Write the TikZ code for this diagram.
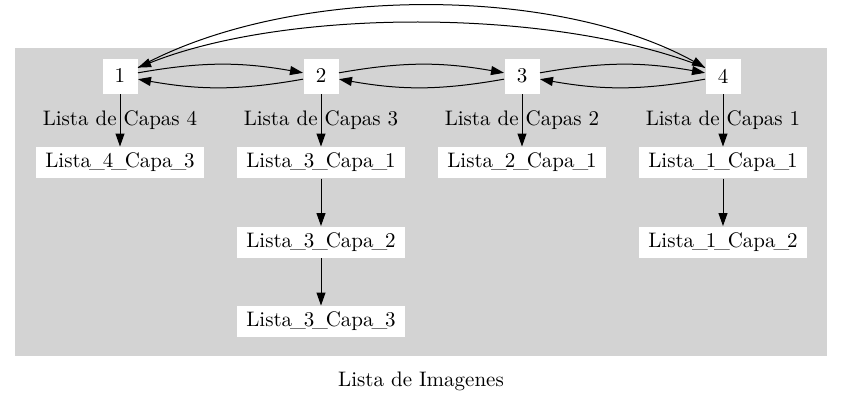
\documentclass[tikz,border=0pt]{standalone}
\usepackage{tikz}
\usetikzlibrary{positioning,arrows.meta}
\definecolor{fondo}{RGB}{211,211,211}
\newcommand{\bajo}{\kern-0.1em\_\kern-0.1em}

\begin{document}
\begin{tikzpicture}[x=0.5pt, y=-0.5pt, node distance={82.5pt},
    main/.style = {fill=white, minimum width=17.5pt, minimum height=17.5pt, inner sep=0pt},
    capa/.style = {fill=white, minimum width=84pt, minimum height=15.5pt, inner sep=0pt},
    >={Triangle[length=6.5pt, width=4.5pt]}, line width=0.5pt,
    font=\fontsize{10.5}{12.6}\selectfont]
    \useasboundingbox (0,0) rectangle (843,402);
    \fill[fondo] (15,48) rectangle (827,356);
    \node[main] (1) at (120,76) {1};
    \node[main] (2) [right=82.5pt of 1] {2};
    \node[main] (3) [right=82.5pt of 2] {3};
    \node[main] (4) [right=82.5pt of 3] {4};
    \node[capa] (l4c3) [below=26.25pt of 1] {Lista\bajo 4\bajo Capa\bajo 3};
    \node[capa] (l3c1) [below=26.25pt of 2] {Lista\bajo 3\bajo Capa\bajo 1};
    \node[capa] (l3c2) [below=23.75pt of l3c1] {Lista\bajo 3\bajo Capa\bajo 2};
    \node[capa] (l3c3) [below=23.75pt of l3c2] {Lista\bajo 3\bajo Capa\bajo 3};
    \node[capa] (l2c1) [below=26.25pt of 3] {Lista\bajo 2\bajo Capa\bajo 1};
    \node[capa] (l1c1) [below=26.25pt of 4] {Lista\bajo 1\bajo Capa\bajo 1};
    \node[capa] (l1c2) [below=23.75pt of l1c1] {Lista\bajo 1\bajo Capa\bajo 2};
    \node (titulo) at (421,381) {Lista de Imagenes};
    % lista doble de imagenes
    \path[->] (1) edge [bend left=10] (2);
    \path[->] (2) edge [bend left=10] (1);
    \path[->] (2) edge [bend left=10] (3);
    \path[->] (3) edge [bend left=10] (2);
    \path[->] (3) edge [bend left=10] (4);
    \path[->] (4) edge [bend left=10] (3);
    \draw[->] (1.25) .. controls +(150,-83) and +(-150,-83) .. (4.155);
    \draw[->] (4.155) .. controls +(-150,-60) and +(150,-60) .. (1.25);
    % capas de cada imagen
    \path[->] (1) edge node {Lista de Capas 4} (l4c3);
    \path[->] (2) edge node {Lista de Capas 3} (l3c1);
    \path[->] (3) edge node {Lista de Capas 2} (l2c1);
    \path[->] (4) edge node {Lista de Capas 1} (l1c1);
    \path[->] (l3c1) edge (l3c2);
    \path[->] (l3c2) edge (l3c3);
    \path[->] (l1c1) edge (l1c2);
\end{tikzpicture}
\end{document}
